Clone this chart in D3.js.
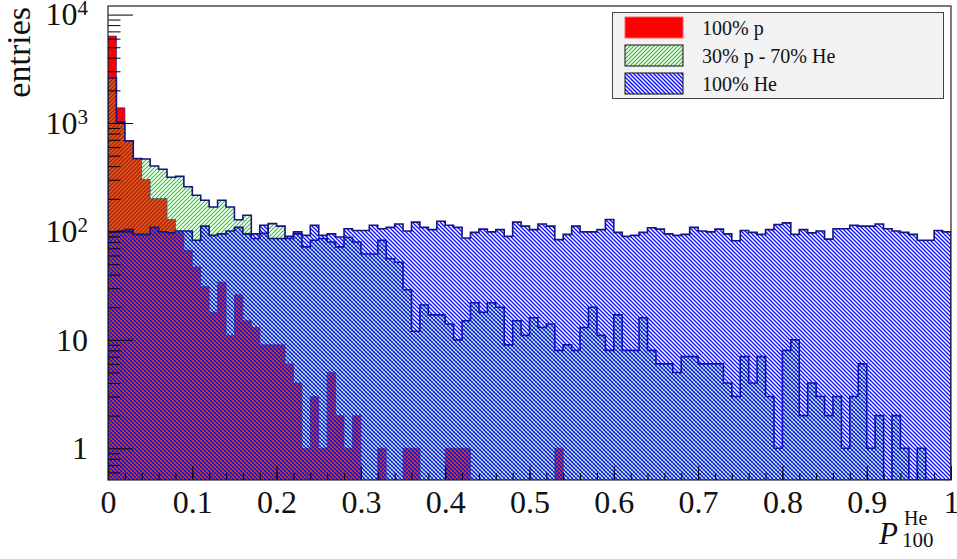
<!DOCTYPE html>
<html>
<head>
<meta charset="utf-8">
<script src="https://cdn.jsdelivr.net/npm/d3@7"></script>
<style>
  body { margin: 0; background: #fff; }
  text { font-family: "Liberation Serif", "DejaVu Serif", serif; fill: #111; }
</style>
</head>
<body>
<div id="chart"></div>
<script>
// histogram contents, 100 bins on [0, 1]
var protonOnly = [6330, 1380, 684, 468, 301, 201, 201, 129, 98, 67,
                  47, 31, 18, 34, 11, 26, 15, 13, 9, 9,
                  9, 6, 4, 1, 3, 1, 5, 2, 1, 2,
                  0, 0, 1, 0, 0, 1, 1, 0, 0, 0,
                  1, 1, 1, 0, 0, 0, 0, 0, 0, 0,
                  0, 0, 0, 1, 0, 0, 0, 0, 0, 0,
                  0, 0, 0, 0, 0, 0, 0, 0, 0, 0,
                  0, 0, 0, 0, 0, 0, 0, 0, 0, 0,
                  0, 0, 0, 0, 0, 0, 0, 0, 0, 0,
                  0, 0, 0, 0, 0, 0, 0, 0, 0, 0];
var mixed = [2600, 1020, 684, 470, 465, 402, 375, 316, 322, 258,
             216, 194, 168, 194, 168, 128, 141, 86, 96, 118,
             112, 86, 95, 72, 83, 86, 80, 72, 88, 80,
             62, 62, 83, 56, 52, 29, 12, 21, 17, 17,
             14, 10, 15, 22, 18, 22, 20, 9, 15, 11,
             16, 13, 14, 8, 9, 8, 13, 20, 11, 8,
             17, 8, 8, 16, 8, 6, 6, 5, 7, 7,
             6, 6, 6, 4, 3, 7, 4, 7, 3, 1,
             8, 10, 2, 4, 3, 2, 3, 1, 3, 6,
             1, 2, 0, 2, 1, 0, 1, 0, 0, 0];
var heliumOnly = [99, 101, 104, 94, 94, 109, 99, 97, 101, 101,
                  83, 112, 92, 95, 101, 109, 95, 95, 114, 86,
                  86, 90, 99, 92, 114, 92, 95, 89, 106, 102,
                  102, 114, 106, 109, 117, 101, 122, 109, 104, 124,
                  114, 109, 87, 98, 105, 99, 104, 90, 122, 112,
                  104, 117, 112, 84, 94, 112, 99, 99, 104, 129,
                  98, 90, 92, 98, 108, 105, 95, 92, 94, 109,
                  101, 99, 105, 95, 82, 102, 98, 94, 104, 116,
                  120, 94, 104, 97, 101, 85, 106, 106, 114, 112,
                  112, 117, 106, 101, 98, 94, 83, 83, 102, 99];

var seriesNames = ["100% p", "30% p - 70% He", "100% He"];
var xTicks = [0, 0.1, 0.2, 0.3, 0.4, 0.5, 0.6, 0.7, 0.8, 0.9, 1];
var xTickLabels = ["0", "0.1", "0.2", "0.3", "0.4", "0.5", "0.6", "0.7", "0.8", "0.9", "1"];
var yTicks = [1, 10, 100, 1000, 10000];
var yTickExp = [null, null, 2, 3, 4];

var width = 957, height = 559,
    margin = { top: 6, right: 6, bottom: 79, left: 108 },
    innerW = width - margin.left - margin.right,
    innerH = height - margin.top - margin.bottom;

var svg = d3.select("#chart").append("svg")
    .attr("width", width)
    .attr("height", height);

// hatches: green "////", blue "\\\\" (8px tiles, 4px period)
var defs = svg.append("defs");
defs.append("pattern").attr("id", "hatchGreen")
    .attr("patternUnits", "userSpaceOnUse").attr("width", 8).attr("height", 8)
  .append("path")
    .attr("d", "M-2,2 L2,-2 M-2,6 L6,-2 M-2,10 L10,-2 M2,10 L10,2 M6,10 L10,6")
    .style("stroke", "#2ec42e").style("stroke-width", "1.1px").style("fill", "none");
defs.append("pattern").attr("id", "hatchBlue")
    .attr("patternUnits", "userSpaceOnUse").attr("width", 8).attr("height", 8)
  .append("path")
    .attr("d", "M-2,6 L2,10 M-2,2 L6,10 M-2,-2 L10,10 M2,-2 L10,6 M6,-2 L10,2")
    .style("stroke", "#0a0aff").style("stroke-width", "1.3px").style("fill", "none");
defs.append("clipPath").attr("id", "frameClip")
  .append("rect").attr("width", innerW).attr("height", innerH);

var g = svg.append("g")
    .attr("transform", "translate(" + margin.left + "," + margin.top + ")");

var x = d3.scaleLinear().domain([0, 1]).range([0, innerW]);
var y = d3.scaleLog().domain([0.51, 12000]).range([innerH, 0]);

var nBins = protonOnly.length, binW = 1 / nBins;

var stepPath = function (vals) {
    var pts = [[x(0), innerH]];
    vals.forEach(function (v, i) {
        var yy = v > 0 ? y(v) : innerH;
        pts.push([x(i * binW), yy], [x((i + 1) * binW), yy]);
    });
    pts.push([x(1), innerH]);
    return d3.line()(pts);
};

var hists = [
    { vals: protonOnly, fill: "#ff0000", line: "rgba(40,30,140,0.7)", lw: 1 },
    { vals: mixed, fill: "url(#hatchGreen)", line: "#15157e", lw: 1.6 },
    { vals: heliumOnly, fill: "url(#hatchBlue)", line: "#15157e", lw: 1.6 }
];

var plot = g.append("g").attr("clip-path", "url(#frameClip)");
hists.forEach(function (h) {
    plot.append("path").attr("d", stepPath(h.vals) + "Z")
        .style("fill", h.fill).style("stroke", "none");
    plot.append("path").attr("d", stepPath(h.vals))
        .style("fill", "none").style("stroke", h.line)
        .style("stroke-width", h.lw + "px").attr("stroke-linejoin", "miter");
});

// x axis, ticks pointing inwards
var xMinor = d3.range(0, 51).map(function (i) { return i / 50; });
g.append("g").attr("transform", "translate(0," + innerH + ")")
    .call(d3.axisBottom(x).tickValues(xMinor).tickFormat("").tickSizeInner(-7).tickSizeOuter(0))
    .call(function (a) { a.select(".domain").remove(); });
var xAx = g.append("g").attr("transform", "translate(0," + innerH + ")")
    .call(d3.axisBottom(x).tickValues(xTicks)
        .tickFormat(function (d, i) { return xTickLabels[i]; })
        .tickSizeInner(-14).tickSizeOuter(0).tickPadding(10));
xAx.select(".domain").remove();
xAx.selectAll("text").style("font-size", "32px").attr("fill", "#111");

// y axis, log
var yMinor = [0.6, 0.7, 0.8, 0.9];
[1, 10, 100, 1000].forEach(function (dec) {
    for (var k = 2; k < 10; k++) yMinor.push(k * dec);
});
g.append("g")
    .call(d3.axisLeft(y).tickValues(yMinor).tickFormat("").tickSizeInner(-12.5).tickSizeOuter(0))
    .call(function (a) { a.select(".domain").remove(); });
var yAx = g.append("g")
    .call(d3.axisLeft(y).tickValues(yTicks).tickFormat(function (d) { return d >= 100 ? "10" : String(d); })
        .tickSizeInner(-25).tickSizeOuter(0).tickPadding(20));
yAx.select(".domain").remove();
yAx.selectAll("text").style("font-size", "32px").attr("fill", "#111")
    .each(function (d, i) {
        if (yTickExp[i] !== null) {
            d3.select(this).append("tspan").attr("dy", -10)
                .style("font-size", "21px").text(yTickExp[i]);
        }
    });

// frame
g.append("rect").attr("width", innerW).attr("height", innerH)
    .style("fill", "none").style("stroke", "#222").style("stroke-width", "1.2px");

// axis titles
svg.append("text").attr("transform", "translate(30,7) rotate(-90)")
    .attr("text-anchor", "end").style("font-size", "34px").text("entries");
var xt = svg.append("g");
xt.append("text").attr("x", 879).attr("y", 544).style("font-size", "31px")
    .style("font-style", "italic").text("P");
xt.append("text").attr("x", 904).attr("y", 525).style("font-size", "20px").text("He");
xt.append("text").attr("x", 902).attr("y", 547).style("font-size", "21px").text("100");

// legend
var leg = svg.append("g");
leg.append("rect").attr("x", 612.5).attr("y", 12.5).attr("width", 331).attr("height", 86)
    .style("fill", "#f2f2f2").style("stroke", "#444").style("stroke-width", "1px");
var legFill = ["#ff0000", "url(#hatchGreen)", "url(#hatchBlue)"],
    legStroke = ["#ff6060", "#111", "#111"],
    rowTop = [17, 45, 73];
seriesNames.forEach(function (name, i) {
    leg.append("rect").attr("x", 625).attr("y", rowTop[i]).attr("width", 58).attr("height", 21)
        .style("fill", legFill[i]).style("stroke", legStroke[i]).style("stroke-width", "1px");
    leg.append("text").attr("x", 702).attr("y", rowTop[i] + 18)
        .style("font-size", "20px").text(name);
});
</script>
</body>
</html>
